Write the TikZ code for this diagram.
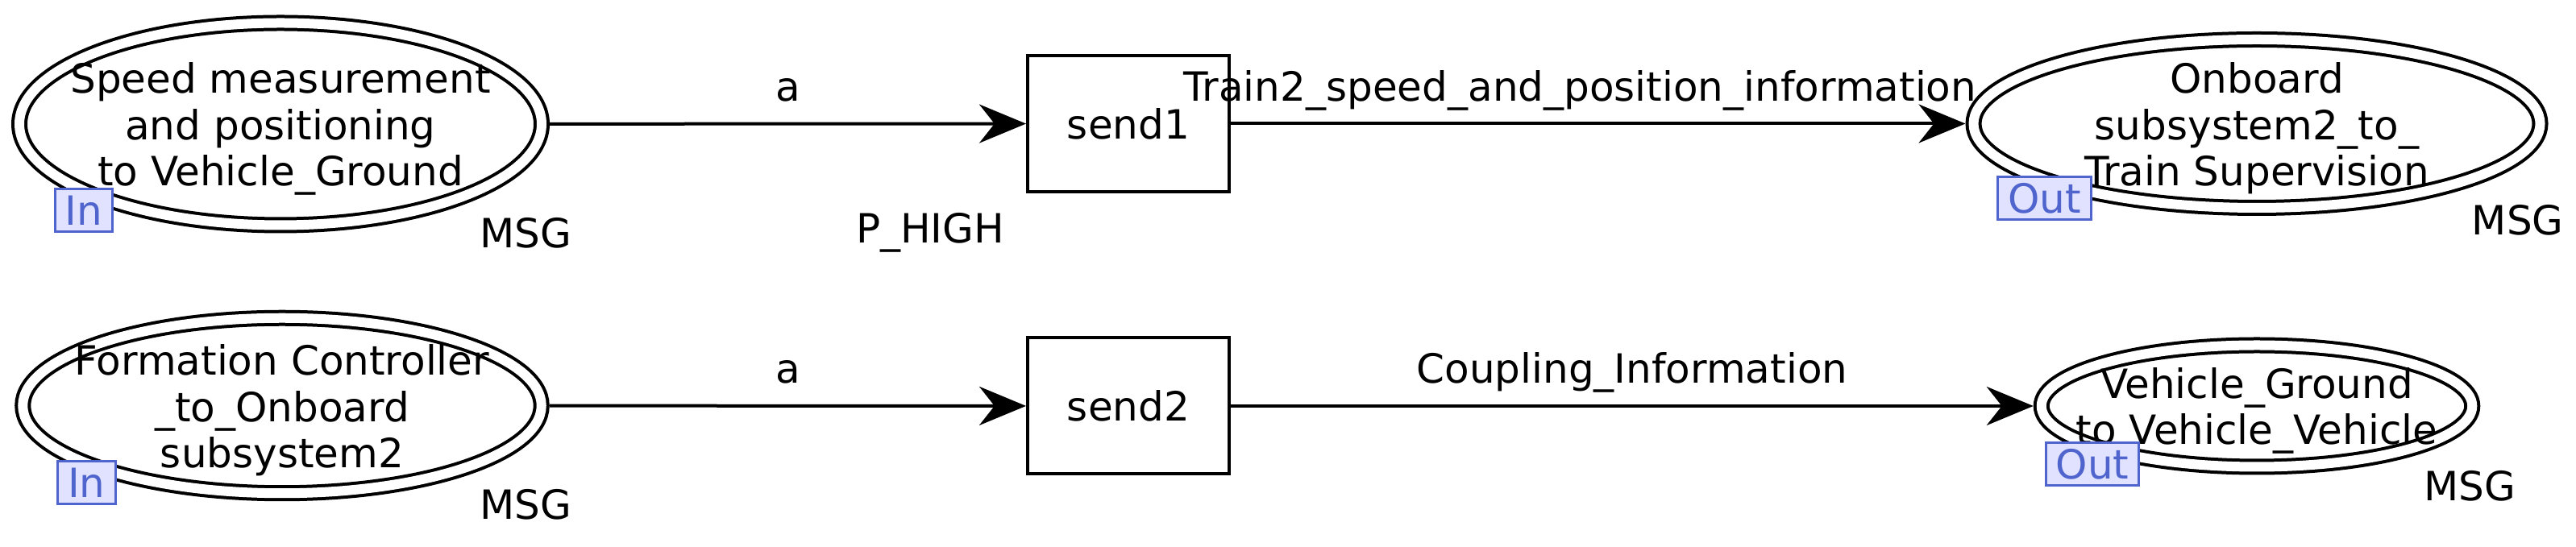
\documentclass[tikz,border=0pt]{standalone}
\usepackage{fontspec}
\setmainfont{DejaVu Sans}
\usetikzlibrary{shapes,arrows.meta,positioning,calc}
\definecolor{portblue}{RGB}{80,100,205}
\definecolor{portfill}{RGB}{224,226,255}

\begin{document}
\begin{tikzpicture}[x=1pt, y=-1pt,
    every node/.style={font=\fontsize{10}{11.5}\selectfont},
    place/.style={ellipse, draw, double, double distance=2.4pt, line width=0.8pt, inner sep=0pt, outer sep=2pt},
    placetxt/.style={align=center, yshift=-1.2pt},
    trans/.style={rectangle, draw, line width=0.8pt, minimum width=50pt, minimum height=33.8pt, inner sep=0pt},
    port/.style={rectangle, draw=portblue, fill=portfill, text=portblue, line width=0.6pt, minimum height=10.6pt, inner xsep=2.5pt, inner ysep=0pt},
    tag/.style={inner sep=0pt, anchor=base},
    arrow/.style={-{Stealth[length=11.6pt, width=9.6pt]}, line width=0.8pt},
    lbl/.style={inner sep=0pt, anchor=base, yshift=5.6pt},
]
    \useasboundingbox (0,0) rectangle (639.2,135.8);

    % places
    \node[place, minimum width=129.6pt, minimum height=50.2pt] (speed) at (69.6,30.8) {};
    \node[place, minimum width=140.6pt, minimum height=41.8pt] (onboard) at (560,30.7) {};
    \node[place, minimum width=128.7pt, minimum height=43.5pt] (formation) at (70,100.7) {};
    \node[place, minimum width=106.9pt, minimum height=30.2pt] (vehicle) at (560,100.8) {};

    \node[placetxt] (speedtxt) at (speed) {Speed measurement\\and positioning\\to Vehicle\_Ground};
    \node[placetxt] (onboardtxt) at (onboard) {Onboard\\subsystem2\_to\_\\Train Supervision};
    \node[placetxt] (formationtxt) at (formation) {Formation Controller\\\_to\_Onboard\\subsystem2};
    \node[placetxt] (vehicletxt) at (vehicle) {Vehicle\_Ground\\to Vehicle\_Vehicle};

    % transitions
    \node[trans] (send1) at (280,30.7) {send1};
    \node[trans] (send2) at (280,100.8) {send2};

    % ports and types
    \node[port] (inspeed) at ([shift={(-1.6pt,-2.3pt)}]speed.south west) {In};
    \node[port] (outonboard) at ([shift={(-1.6pt,-2.3pt)}]onboard.south west) {Out};
    \node[port] (information) at ([shift={(-1.6pt,-2.3pt)}]formation.south west) {In};
    \node[port] (outvehicle) at ([shift={(-1.6pt,-2.3pt)}]vehicle.south west) {Out};

    \node[tag] (msgspeed) at ([shift={(13.6pt,-11.5pt)}]speed.south east) {MSG};
    \node[tag] (msgonboard) at ([shift={(13.6pt,-11.5pt)}]onboard.south east) {MSG};
    \node[tag] (msgformation) at ([shift={(13.6pt,-11.5pt)}]formation.south east) {MSG};
    \node[tag] (msgvehicle) at ([shift={(13.6pt,-11.5pt)}]vehicle.south east) {MSG};
    \node[tag] (prio) at ([shift={(-23.8pt,-12.4pt)}]send1.south west) {P\_HIGH};

    % arcs
    \draw[arrow] (speed) -- node[lbl] (arca1) {a} (send1);
    \draw[arrow] (send1) -- node[lbl, xshift=-4.5pt] (arctrain) {Train2\_speed\_and\_position\_information} (onboard);
    \draw[arrow] (formation) -- node[lbl] (arca2) {a} (send2);
    \draw[arrow] (send2) -- node[lbl] (arccoupling) {Coupling\_Information} (vehicle);
\end{tikzpicture}
\end{document}
